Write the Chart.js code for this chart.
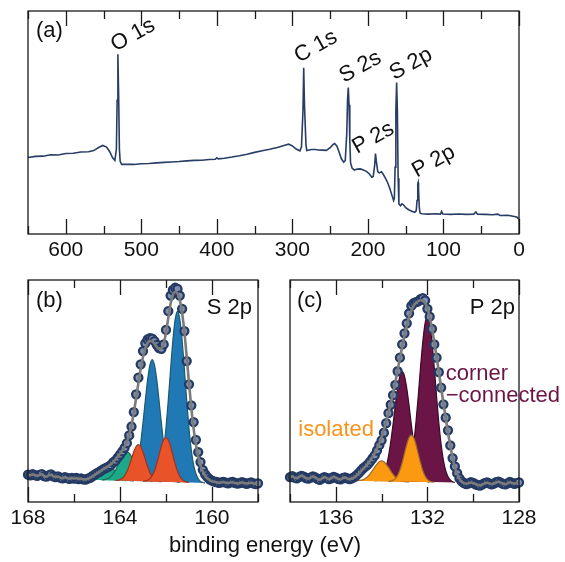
<!DOCTYPE html>
<html>
<head>
<meta charset="utf-8">
<script src="https://cdn.jsdelivr.net/npm/chart.js@4.4.1/dist/chart.umd.min.js"></script>
<style>
body{margin:0;background:#fff;width:565px;height:562px;position:relative;overflow:hidden;font-family:"Liberation Sans",Arial,sans-serif}
canvas{position:absolute}
#xtitle{position:absolute;left:0;width:530px;top:534px;text-align:center;font-size:22px;line-height:22px;color:#111}
</style>
</head>
<body>
<canvas id="survey" width="565" height="270" style="left:0;top:0"></canvas>
<canvas id="s2p" width="282" height="292" style="left:0;top:270px"></canvas>
<canvas id="p2p" width="283" height="292" style="left:282px;top:270px"></canvas>
<div id="xtitle">binding energy (eV)</div>
<script>
// (a) survey spectrum
const surveyE = [650,640,630,620,610,600,590,580,570,563,556,551,546,542,538,535,533,532,531,530,529,528,526,520,510,500,490,480,470,460,450,440,430,420,410,402,400,398,390,380,370,360,350,340,330,320,310,305,300,295,290,288,286,285,284,282,281,275,270,265,260,255,250,246,244,241,238,235,232,230,228,227,226,225,224,223,221,218,214,210,206,202,198,195,193,191,190,189,187,185,182,180,177,174,171,168,166,165,164,163,162,161,160,159,157,155,153,150,146,142,138,136,135,134,133.5,133,132,131,129,120,110,104,102.5,101,90,80,70,60,57,55,45,35,28,25,15,8,3,0];
const surveyI = [34.3,34.8,34.9,35.5,35.4,36.1,36.2,36.8,36.9,37.4,38.9,39.7,39.0,37.0,34.2,33.0,38.0,60.0,80.6,62.0,38.0,32.6,31.2,31.3,31.2,31.5,31.6,31.9,32.1,32.3,32.5,32.8,33.0,33.1,33.4,33.5,34.2,33.7,34.0,34.5,35.1,35.8,36.6,37.3,38.0,38.8,39.8,40.3,39.5,38.1,37.3,39.0,55.0,74.6,58.0,40.0,37.4,37.9,37.9,37.7,37.6,37.5,38.7,40.2,40.6,39.4,36.5,33.6,32.2,33.0,45.0,60.0,65.7,58.0,42.0,32.0,29.6,28.7,29.1,29.2,28.7,28.1,26.9,25.5,25.8,31.0,36.1,33.0,28.0,27.4,27.9,26.9,25.2,23.1,20.4,17.1,15.0,16.0,30.0,55.0,67.9,55.0,25.0,13.5,12.7,13.5,13.1,11.8,10.9,10.2,9.7,10.5,15.0,22.5,23.1,20.0,12.0,9.4,9.1,8.9,9.1,8.9,10.1,9.0,8.8,9.0,8.8,8.9,9.9,8.9,8.8,8.6,8.9,8.3,8.4,8.0,7.6,6.7];
const peakNames = ['O 1s','C 1s','S 2s','S 2p','P 2s','P 2p'];
const peakLabelE = [511, 269, 210, 143, 193, 113];
const peakLabelI = [89.2, 84, 74.9, 76.2, 43, 32.5];

// (b) S 2p
const energyS = [168.0,167.9,167.8,167.7,167.6,167.5,167.4,167.3,167.2,167.1,
  167.0,166.9,166.8,166.7,166.6,166.5,166.4,166.3,166.2,166.1,
  166.0,165.9,165.8,165.7,165.6,165.5,165.4,165.3,165.2,165.1,
  165.0,164.9,164.8,164.7,164.6,164.5,164.4,164.3,164.2,164.1,
  164.0,163.9,163.8,163.7,163.6,163.5,163.4,163.3,163.2,163.1,
  163.0,162.9,162.8,162.7,162.6,162.5,162.4,162.3,162.2,162.1,
  162.0,161.9,161.8,161.7,161.6,161.5,161.4,161.3,161.2,161.1,
  161.0,160.9,160.8,160.7,160.6,160.5,160.4,160.3,160.2,160.1,
  160.0,159.9,159.8,159.7,159.6,159.5,159.4,159.3,159.2,159.1,
  159.0,158.9,158.8,158.7,158.6,158.5,158.4,158.3,158.2,158.1,158.0];
const countsS = [12.3,12.0,12.5,12.1,11.8,12.2,12.6,11.7,11.4,12.0,
  12.4,11.6,11.2,11.5,11.0,10.6,11.2,10.8,10.4,10.9,
  10.5,10.8,10.3,10.6,10.2,10.1,10.5,10.9,11.6,12.3,
  13.0,13.6,14.2,14.9,15.4,15.9,16.6,17.8,18.6,20.0,
  21.3,22.8,24.4,26.5,30.0,34.0,40.5,48.5,56.0,62.0,
  68.0,71.5,73.2,73.8,73.6,72.5,70.8,69.3,69.0,71.0,
  77.5,86.0,93.0,95.5,96.5,96.0,93.0,87.0,77.0,63.5,
  53.0,43.5,36.0,28.0,22.5,18.0,14.5,12.5,11.2,10.2,
  9.6,9.2,9.0,8.6,8.8,9.1,8.7,8.4,8.8,9.0,
  8.6,8.3,8.5,8.9,8.6,8.2,8.5,8.8,8.4,8.1,8.4];
const fitS = [12.3,12.0,12.5,12.1,11.8,12.2,12.6,11.7,11.4,12.0,
  12.4,11.6,11.2,11.5,11.0,10.6,11.2,10.8,10.4,10.9,
  10.5,10.8,10.3,10.6,10.2,10.2,10.5,10.9,11.5,12.2,
  12.9,13.6,14.3,15.0,15.6,16.2,17.0,18.0,19.1,20.4,
  21.8,23.3,25.0,27.2,30.3,34.6,40.2,46.8,53.6,60.0,
  65.3,69.2,71.6,72.6,72.4,71.3,69.9,68.9,69.2,71.4,
  76.2,83.0,89.3,93.2,94.6,94.0,91.0,85.2,76.5,65.4,
  53.6,42.5,33.2,25.9,20.4,16.4,13.6,11.8,10.6,9.8,
  9.3,9.1,8.9,8.7,8.8,9.0,8.7,8.5,8.8,8.9,
  8.6,8.4,8.5,8.8,8.6,8.3,8.5,8.7,8.4,8.2,8.4];
const blueAE = [160.3,160.4,160.5,160.6,160.7,160.8,160.9,161.0,161.1,161.2,161.3,161.4,161.5,161.6,161.7,161.8,161.9,162.0,162.1,162.2,162.3,162.4,162.5,162.6,162.7];
const blueA = [8.6,8.8,9.3,10.5,12.7,16.7,23.4,33.1,45.7,59.7,72.9,82.3,85.9,82.4,73.0,59.9,46.0,33.4,23.7,17.2,13.2,11.0,9.9,9.5,9.3];
const blueBE = [161.4,161.5,161.6,161.7,161.8,161.9,162.0,162.1,162.2,162.3,162.4,162.5,162.6,162.7,162.8,162.9,163.0,163.1,163.2,163.3,163.4,163.5,163.6,163.7,163.8];
const blueB = [8.9,9.1,9.4,10.3,11.9,14.8,19.5,26.5,35.5,45.5,54.9,61.7,64.2,61.7,55.0,45.7,35.7,26.7,19.9,15.2,12.3,10.8,10.0,9.7,9.6];
const redAE = [161.0,161.1,161.2,161.3,161.4,161.5,161.6,161.7,161.8,161.9,162.0,162.1,162.2,162.3,162.4,162.5,162.6,162.7,162.8,162.9,163.0];
const redA = [8.8,9.0,9.3,10.1,11.5,13.8,17.1,21.0,25.0,27.9,29.0,28.0,25.1,21.2,17.3,14.1,11.9,10.5,9.8,9.5,9.4];
const redBE = [162.2,162.3,162.4,162.5,162.6,162.7,162.8,162.9,163.0,163.1,163.2,163.3,163.4,163.5,163.6,163.7,163.8,163.9,164.0,164.1,164.2];
const redB = [9.1,9.3,9.6,10.2,11.4,13.3,16.0,19.3,22.5,24.9,25.9,25.0,22.6,19.5,16.3,13.6,11.8,10.7,10.1,9.8,9.7];
const greenAE = [162.6,162.7,162.8,162.9,163.0,163.1,163.2,163.3,163.4,163.5,163.6,163.7,163.8,163.9,164.0,164.1,164.2,164.3,164.4,164.5,164.6,164.7,164.8];
const greenA = [9.3,9.4,9.7,10.2,11.1,12.3,14.0,16.2,18.4,20.5,22.0,22.5,22.0,20.6,18.6,16.4,14.3,12.7,11.5,10.7,10.3,10.0,9.9];
const greenBE = [163.4,163.5,163.6,163.7,163.8,163.9,164.0,164.1,164.2,164.3,164.4,164.5,164.6,164.7,164.8,164.9,165.0,165.1,165.2,165.3,165.4,165.5,165.6];
const greenB = [9.4,9.6,9.7,10.0,10.4,11.0,11.8,12.8,13.8,14.8,15.5,15.8,15.5,14.9,14.0,13.0,12.1,11.3,10.8,10.4,10.2,10.1,10.1];

// (c) P 2p
const energyP = [138.0,137.9,137.8,137.7,137.6,137.5,137.4,137.3,137.2,137.1,
  137.0,136.9,136.8,136.7,136.6,136.5,136.4,136.3,136.2,136.1,
  136.0,135.9,135.8,135.7,135.6,135.5,135.4,135.3,135.2,135.1,
  135.0,134.9,134.8,134.7,134.6,134.5,134.4,134.3,134.2,134.1,
  134.0,133.9,133.8,133.7,133.6,133.5,133.4,133.3,133.2,133.1,
  133.0,132.9,132.8,132.7,132.6,132.5,132.4,132.3,132.2,132.1,
  132.0,131.9,131.8,131.7,131.6,131.5,131.4,131.3,131.2,131.1,
  131.0,130.9,130.8,130.7,130.6,130.5,130.4,130.3,130.2,130.1,
  130.0,129.9,129.8,129.7,129.6,129.5,129.4,129.3,129.2,129.1,
  129.0,128.9,128.8,128.7,128.6,128.5,128.4,128.3,128.2,128.1,128.0];
const countsP = [11.2,11.6,11.0,10.7,11.3,11.8,11.4,10.8,10.5,11.0,
  11.5,11.1,10.4,10.0,10.6,11.2,10.8,10.3,10.7,11.3,
  11.0,10.4,10.2,10.7,11.1,10.6,10.3,10.6,11.2,12.0,
  13.0,14.1,15.2,16.0,16.9,18.2,19.6,21.0,23.2,25.6,
  27.8,31.2,35.5,40.0,43.8,48.1,52.8,58.9,65.0,71.0,
  76.0,80.5,85.0,88.3,89.6,90.0,90.4,91.4,91.8,90.8,
  87.0,83.5,78.0,71.0,65.0,58.5,51.5,44.0,38.0,32.3,
  25.5,19.8,16.0,13.0,10.6,9.3,8.5,8.1,8.4,8.9,
  8.6,8.0,7.6,7.4,7.9,8.5,8.8,8.4,8.0,8.3,
  8.9,9.2,8.7,8.2,7.9,8.4,9.0,8.6,8.2,8.5,8.8];
const fitP = [11.2,11.6,11.0,10.7,11.3,11.8,11.4,10.8,10.5,11.0,
  11.5,11.1,10.4,10.0,10.6,11.2,10.8,10.3,10.7,11.3,
  11.0,10.4,10.2,10.7,11.1,10.6,10.3,10.6,11.0,11.8,
  12.8,13.9,15.0,16.1,17.3,18.7,20.2,22.0,24.1,26.5,
  29.3,32.5,36.1,40.1,44.4,49.0,54.0,59.3,64.7,70.0,
  75.0,79.5,83.3,86.3,88.4,89.7,90.5,90.9,90.8,89.7,
  87.2,83.3,78.1,72.0,65.4,58.5,51.5,44.5,37.7,31.2,
  25.2,19.9,15.6,12.5,10.4,9.1,8.5,8.2,8.4,8.8,
  8.6,8.1,7.7,7.5,7.9,8.4,8.7,8.4,8.1,8.3,
  8.8,9.1,8.7,8.3,8.0,8.4,8.9,8.6,8.3,8.5,8.8];
const cornerAE = [130.8,130.9,131.0,131.1,131.2,131.3,131.4,131.5,131.6,131.7,131.8,131.9,132.0,132.1,132.2,132.3,132.4,132.5,132.6,132.7,132.8,132.9,133.0,133.1,133.2];
const cornerA = [8.8,9.1,9.9,11.4,14.1,18.8,25.9,35.6,47.6,60.6,72.2,80.5,83.5,80.6,72.3,60.7,47.7,35.9,26.2,19.1,14.5,11.8,10.3,9.6,9.3];
const cornerBE = [131.9,132.0,132.1,132.2,132.3,132.4,132.5,132.6,132.7,132.8,132.9,133.0,133.1,133.2,133.3,133.4,133.5,133.6,133.7,133.8,133.9,134.0,134.1,134.2,134.3];
const cornerB = [9.0,9.2,9.7,10.7,12.5,15.6,20.4,26.9,34.8,43.4,51.1,56.7,58.7,56.7,51.2,43.6,35.0,27.1,20.6,15.9,12.9,11.1,10.1,9.7,9.5];
const isoAE = [131.7,131.8,131.9,132.0,132.1,132.2,132.3,132.4,132.5,132.6,132.7,132.8,132.9,133.0,133.1,133.2,133.3,133.4,133.5,133.6,133.7];
const isoA = [8.9,9.0,9.4,10.2,11.7,14.1,17.6,21.7,25.9,29.0,30.1,29.0,25.9,21.9,17.8,14.4,12.0,10.5,9.8,9.4,9.3];
const isoBE = [132.8,132.9,133.0,133.1,133.2,133.3,133.4,133.5,133.6,133.7,133.8,133.9,134.0,134.1,134.2,134.3,134.4,134.5,134.6,134.7,134.8,134.9,135.0,135.1,135.2];
const isoB = [9.05,9.1,9.2,9.4,9.8,10.4,11.3,12.5,14.0,15.6,17.0,18.1,18.5,18.1,17.1,15.7,14.2,12.7,11.5,10.7,10.1,9.8,9.7,9.6,9.6];

const FONT = '"Liberation Sans", Arial, sans-serif';
const NAVY = '#243a63';

function pts(xs, ys) {
  return xs.map((x, i) => ({x: x, y: ys[i]}));
}

// frame, inward ticks and text labels
function framePlugin(major, minor, notes) {
  return {
    id: 'frame',
    afterDraw(chart) {
      const ctx = chart.ctx, a = chart.chartArea;
      const xs = chart.scales.x, ys = chart.scales.y;
      ctx.save();
      ctx.strokeStyle = '#1a1a1a';
      ctx.lineWidth = 1.3;
      ctx.beginPath();
      [[major, 15], [minor, 8]].forEach(([list, len]) => {
        list.forEach(v => {
          const px = Math.round(xs.getPixelForValue(v)) + 0.5;
          ctx.moveTo(px, a.top); ctx.lineTo(px, a.top + len);
          ctx.moveTo(px, a.bottom); ctx.lineTo(px, a.bottom - len);
        });
      });
      ctx.stroke();
      ctx.strokeRect(a.left, a.top, a.right - a.left, a.bottom - a.top);
      notes.forEach(n => {
        let x, y;
        if (n.e !== undefined) {
          x = xs.getPixelForValue(n.e);
          y = ys.getPixelForValue(n.v);
        } else {
          x = n.side === 'right' ? a.right - n.dx : a.left + n.dx;
          y = a.top + n.dy;
        }
        ctx.save();
        ctx.translate(x, y);
        if (n.rot) ctx.rotate(n.rot * Math.PI / 180);
        ctx.font = (n.size || 22) + 'px ' + FONT;
        ctx.fillStyle = n.color || '#111';
        ctx.textAlign = n.align || 'left';
        ctx.textBaseline = n.base || 'alphabetic';
        ctx.fillText(n.text, 0, 0);
        ctx.restore();
      });
      ctx.restore();
    }
  };
}

function makeOptions(min, max, step, padding, axisH) {
  return {
    responsive: false,
    animation: false,
    layout: {padding: padding},
    plugins: {legend: {display: false}, tooltip: {enabled: false}},
    scales: {
      x: {
        type: 'linear', min: min, max: max, reverse: true,
        grid: {display: false, drawTicks: false},
        border: {display: false},
        ticks: {stepSize: step, includeBounds: false, autoSkip: false, maxRotation: 0,
                padding: 4, color: '#111', font: {family: FONT, size: 21}},
        afterFit(s) { s.height = axisH; }
      },
      y: {display: false, min: 0, max: 100}
    }
  };
}

function peakShape(xs, ys, fillColor, edge, order) {
  return {data: pts(xs, ys), backgroundColor: fillColor, borderColor: edge, borderWidth: 1.2,
          fill: 'shape', pointRadius: 0, cubicInterpolationMode: 'monotone', order: order};
}

function dataPoints(xs, ys) {
  return {data: pts(xs, ys), showLine: false, pointRadius: 4, pointBorderWidth: 2.3,
          pointBorderColor: NAVY, pointBackgroundColor: '#7f90b0', clip: false, order: 1};
}

function fitLine(xs, ys) {
  return {data: pts(xs, ys), borderColor: '#7b7b7b', borderWidth: 2.6, pointRadius: 0,
          cubicInterpolationMode: 'monotone', clip: false, order: 0};
}

// (a)
const surveyNotes = [{text: '(a)', dx: 8, dy: 26}];
peakNames.forEach((t, i) => surveyNotes.push({text: t, e: peakLabelE[i], v: peakLabelI[i],
  rot: -29, align: 'center', base: 'middle', size: 22}));
new Chart(document.getElementById('survey'), {
  type: 'line',
  data: {datasets: [{data: pts(surveyE, surveyI), borderColor: '#283d66', borderWidth: 1.6,
    pointRadius: 0, tension: 0}]},
  options: makeOptions(0, 650, 100, {left: 28, right: 46, top: 11, bottom: 0}, 36),
  plugins: [framePlugin([0,100,200,300,400,500,600], [50,150,250,350,450,550,650], surveyNotes)]
});

// (b)
new Chart(document.getElementById('s2p'), {
  type: 'line',
  data: {datasets: [
    fitLine(energyS, fitS),
    dataPoints(energyS, countsS),
    peakShape(redAE, redA, '#e9532a', '#a3321b', 2),
    peakShape(redBE, redB, '#e9532a', '#a3321b', 3),
    peakShape(greenAE, greenA, '#1ca98a', '#1f6b52', 4),
    peakShape(greenBE, greenB, '#1ca98a', '#1f6b52', 5),
    peakShape(blueAE, blueA, '#2079b4', '#1b5a6c', 6),
    peakShape(blueBE, blueB, '#2079b4', '#1b5a6c', 7)
  ]},
  options: makeOptions(158, 168, 4, {left: 28, right: 24, top: 10, bottom: 0}, 60),
  plugins: [framePlugin([168,164,160], [166,162,158], [
    {text: '(b)', dx: 8, dy: 27},
    {text: 'S 2p', side: 'right', dx: 6, dy: 34, align: 'right'}
  ])]
});

// (c)
new Chart(document.getElementById('p2p'), {
  type: 'line',
  data: {datasets: [
    fitLine(energyP, fitP),
    dataPoints(energyP, countsP),
    peakShape(isoAE, isoA, '#fb9a10', '#9c6a2e', 2),
    peakShape(isoBE, isoB, '#fb9a10', '#9c6a2e', 3),
    peakShape(cornerAE, cornerA, '#6b1546', '#3a0a24', 4),
    peakShape(cornerBE, cornerB, '#6b1546', '#3a0a24', 5)
  ]},
  options: makeOptions(128, 138, 4, {left: 8, right: 46, top: 10, bottom: 0}, 60),
  plugins: [framePlugin([136,132,128], [138,134,130], [
    {text: '(c)', dx: 7, dy: 27},
    {text: 'P 2p', side: 'right', dx: 4, dy: 34, align: 'right'},
    {text: 'corner', e: 131.2, v: 54.9, color: '#6b1546'},
    {text: '\u2212connected', e: 131.2, v: 45.1, color: '#6b1546'},
    {text: 'isolated', e: 137.64, v: 29.6, color: '#f7941d'}
  ])]
});
</script>
</body>
</html>
